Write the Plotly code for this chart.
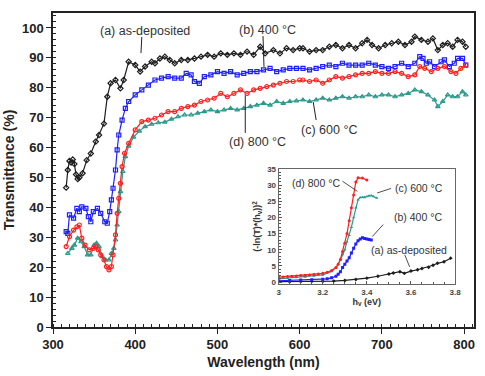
import plotly.graph_objects as go

# ---- main chart data (wavelength nm, transmittance %) ----
wl_a = [316,318,320,322,324,326,328,330,332,336,341,346,352,356,362,366,370,376,382,386,
        392,400,406,412,420,424,430,436,442,448,456,464,472,480,488,496,504,512,520,528,536,544,552,558,568,576,584,592,600,
        604,612,620,628,636,644,652,660,668,676,682,688,696,704,712,720,728,736,740,748,756,762,768,774,780,786,792,798,802]
t_a = [46.6,52.5,55.5,55.0,56.0,54.5,51.0,49.5,50.0,51.4,55.8,58.0,62.0,64.2,68.0,77.0,81.5,82.6,79.8,82.6,
       88.7,87.6,85.4,87.1,88.7,88.2,89.8,90.4,89.3,88.2,89.3,89.3,89.8,90.4,91.0,90.4,91.5,91.0,91.5,91.0,92.1,91.0,93.7,91.5,92.6,91.5,93.2,92.6,93.2,
       93.2,92.1,92.6,92.6,93.7,94.3,93.2,94.3,93.2,94.9,96.0,94.3,93.2,94.3,94.9,95.4,94.3,95.4,97.1,96.0,95.4,96.5,92.6,94.3,94.9,93.7,96.0,95.4,93.7]

wl_b = [316,318,320,325,329,332,335,340,343,346,349,354,358,363,366,369,371,373,376,378,380,384,388,
        392,400,408,416,424,432,440,448,456,462,468,472,478,484,492,500,508,516,524,532,540,548,556,564,572,580,588,596,
        604,612,620,628,636,644,652,660,668,676,684,692,700,708,716,724,732,740,746,750,754,758,764,772,776,782,788,792,798,802]
t_b = [31.9,31.3,37.5,36.4,39.7,38.6,40.2,39.7,36.9,35.2,38.6,39.7,38.0,35.2,34.7,38.6,42.5,46.4,52.5,59.2,64.2,69.2,73.1,
       75.4,77.6,79.3,80.9,82.6,83.2,83.7,83.2,83.2,84.8,84.3,82.1,81.5,83.7,84.3,85.4,84.8,85.4,84.3,84.8,85.4,85.4,86.0,86.5,85.4,86.0,86.5,86.5,
       86.5,86.0,86.5,87.1,87.6,87.1,88.2,87.6,87.6,87.6,88.2,87.6,87.1,86.5,87.1,88.2,87.1,88.2,90.4,89.8,88.2,88.7,87.1,88.7,89.3,87.1,88.2,89.8,89.8,87.6]

wl_c = [318,323,326,330,334,338,342,346,350,353,356,360,364,368,371,374,376,378,380,382,385,388,
        392,398,405,412,420,428,436,444,452,460,468,476,484,492,500,508,516,524,532,540,548,556,564,572,580,588,596,
        604,612,620,628,636,644,652,660,668,676,684,692,700,708,716,724,732,740,748,756,764,768,774,780,786,792,798,802]
t_c = [24.6,26.3,27.4,29.7,28.5,26.9,24.1,24.1,27.4,28.0,26.9,23.5,22.4,22.4,24.6,26.3,29.1,34.1,38.6,45.3,52.0,57.0,
       60.5,63.5,65.5,67.0,67.8,68.3,68.5,69.5,70.3,70.9,70.9,71.5,72.0,72.6,72.0,72.6,73.1,72.6,73.1,73.7,74.2,74.8,74.2,75.4,74.8,75.4,75.6,
       75.9,75.4,75.9,76.5,75.9,76.5,77.0,76.5,77.0,77.0,77.6,77.0,77.6,77.6,77.0,77.6,78.1,79.3,78.7,77.6,75.9,73.7,75.4,77.6,77.0,77.0,78.7,77.6]

wl_d = [316,320,325,329,332,335,339,344,349,352,355,358,362,365,368,371,373,376,378,380,382,384,387,
        392,400,408,416,424,432,440,448,456,464,472,480,488,496,504,512,520,528,536,544,552,560,568,576,584,592,600,
        604,612,620,628,636,644,652,660,668,676,684,692,700,708,716,724,732,740,746,752,760,768,776,784,790,796,802]
t_d = [26.9,30.2,32.4,33.5,34.1,29.7,27.4,25.8,26.3,26.9,25.8,24.1,22.4,20.2,19.1,20.2,24.1,30.8,38.0,43.0,48.0,53.6,58.1,
       61.4,65.9,68.7,69.2,69.8,70.9,72.0,72.0,73.1,73.7,74.2,75.4,75.9,76.5,78.1,77.0,78.1,79.3,78.1,79.3,79.8,80.4,80.9,81.5,82.1,82.1,82.6,
       82.6,82.1,82.6,81.5,82.6,83.7,83.2,83.7,84.3,84.8,84.8,85.4,84.8,84.8,85.4,84.8,83.7,84.3,87.1,86.5,85.4,86.5,87.1,85.4,84.8,86.5,87.6]

# ---- inset data (photon energy eV, (-ln(T)*hv)^2) ----
e_a = [3.00,3.05,3.10,3.15,3.20,3.25,3.30,3.35,3.40,3.45,3.50,3.52,3.55,3.57,3.60,3.63,3.65,3.68,3.70,3.72,3.75,3.78]
v_a = [0.1,0.1,0.15,0.2,0.2,0.3,0.5,0.8,1.2,1.8,2.5,2.8,3.2,2.7,3.4,3.8,4.2,4.6,5.2,5.8,6.3,7.4]
e_b = [3.00,3.05,3.10,3.15,3.20,3.22,3.24,3.26,3.27,3.28,3.29,3.30,3.31,3.32,3.33,3.34,3.35,3.36,3.37,3.38,3.39,3.40,3.41,3.42]
v_b = [0.4,0.5,0.6,0.7,0.9,1.0,1.3,1.8,2.4,3.2,4.5,5.5,6.5,7.5,9.0,10.5,11.8,12.8,13.3,13.7,13.5,13.3,13.2,13.0]
e_c = [3.00,3.04,3.08,3.12,3.16,3.20,3.24,3.26,3.28,3.29,3.30,3.31,3.32,3.33,3.34,3.35,3.36,3.37,3.38,3.39,3.40,3.41,3.42,3.43,3.445]
v_c = [1.0,1.2,1.4,1.6,1.9,2.2,3.3,4.5,6.8,8.5,10.0,12.5,14.5,17.0,20.0,23.0,25.5,26.2,26.3,26.2,26.5,26.7,26.8,26.5,26.0]
e_d = [3.00,3.02,3.04,3.06,3.08,3.10,3.12,3.14,3.16,3.18,3.20,3.22,3.24,3.26,3.27,3.28,3.29,3.30,3.31,3.32,3.33,3.34,3.35,3.36,3.38,3.40]
v_d = [1.5,1.6,1.7,1.8,1.9,2.0,2.1,2.2,2.3,2.5,2.7,3.0,3.6,4.5,5.5,7.0,9.5,12.0,15.0,19.0,23.0,27.0,31.0,32.3,32.2,31.6]

BLACK = "#1e1e1e"
BLUE = "#1f1fff"
RED = "#ff1f1f"
TEAL = "#2a9a8c"
FONT = "Liberation Sans, Arial, sans-serif"

fig = go.Figure()

main = [(wl_a, t_a, BLACK, "diamond-open"),
        (wl_b, t_b, BLUE, "square-open"),
        (wl_c, t_c, TEAL, "triangle-up-open"),
        (wl_d, t_d, RED, "circle-open")]
for x, y, c, sym in main:
    fig.add_trace(go.Scatter(x=x, y=y, mode="lines+markers", xaxis="x", yaxis="y",
                             line=dict(color=c, width=1.2),
                             marker=dict(symbol=sym, size=4, color=c, line=dict(width=1.2, color=c)),
                             showlegend=False))

inset = [(e_a, v_a, BLACK, "diamond"), (e_b, v_b, BLUE, "square"),
         (e_c, v_c, TEAL, "triangle-up"), (e_d, v_d, RED, "circle")]
for x, y, c, sym in inset:
    fig.add_trace(go.Scatter(x=x, y=y, mode="lines+markers", xaxis="x2", yaxis="y2",
                             line=dict(color=c, width=1.2),
                             marker=dict(symbol=sym, size=3, color=c),
                             showlegend=False))

tickfont = dict(family=FONT, size=13, color="#222", weight="bold")
fig.update_layout(
    width=485, height=376,
    margin=dict(l=53, r=5, t=13, b=49),
    paper_bgcolor="white", plot_bgcolor="white",
    xaxis=dict(domain=[0, 1], range=[300, 812], dtick=100, tick0=300,
               showline=True, linecolor="#222", linewidth=1.5, mirror=True,
               ticks="outside", ticklen=5, tickwidth=1.2, tickcolor="#222",
               minor=dict(ticks="inside", ticklen=3, dtick=10, tickcolor="#222"),
               showgrid=False, zeroline=False, tickfont=tickfont,
               title=dict(text="Wavelength (nm)", standoff=6,
                          font=dict(family=FONT, size=14, color="#222", weight="bold"))),
    yaxis=dict(domain=[0, 1], range=[0, 105], dtick=10,
               showline=True, linecolor="#222", linewidth=1.5, mirror=True,
               ticks="outside", ticklen=5, tickwidth=1.2, tickcolor="#222",
               minor=dict(ticks="inside", ticklen=3, dtick=2, tickcolor="#222"),
               showgrid=False, zeroline=False, tickfont=tickfont,
               title=dict(text="Transmittance (%)", standoff=4,
                          font=dict(family=FONT, size=14, color="#222", weight="bold"))),
    xaxis2=dict(domain=[0.536, 0.955], range=[3, 3.8], dtick=0.2, anchor="y2",
                showline=True, linecolor="#666", linewidth=1, mirror=True,
                ticks="inside", ticklen=3, tickcolor="#555",
                minor=dict(ticks="inside", ticklen=2, dtick=0.05, tickcolor="#555"),
                showgrid=False, zeroline=False,
                tickfont=dict(family=FONT, size=8, color="#444", weight="bold"),
                title=dict(text="h<sub>v</sub> (eV)", standoff=2,
                           font=dict(family=FONT, size=9, color="#333", weight="bold"))),
    yaxis2=dict(domain=[0.137, 0.503], range=[-0.6, 35], dtick=5, anchor="x2",
                showline=True, linecolor="#666", linewidth=1, mirror=True,
                ticks="inside", ticklen=3, tickcolor="#555",
                minor=dict(ticks="inside", ticklen=2, dtick=1, tickcolor="#555"),
                showgrid=False, zeroline=False,
                tickfont=dict(family=FONT, size=8, color="#444", weight="bold"),
                title=dict(text="(-ln(T)*(h<sub>v</sub>))<sup>2</sup>", standoff=4,
                           font=dict(family=FONT, size=9, color="#333", weight="bold"))),
)

afont = dict(family=FONT, size=12.5, color="#333")
main_labels = [("(a) as-deposited", 411.5, 99.0, 408, 97.0, 407, 91.6),
               ("(b) 400 °C", 561, 99.3, 555.4, 97.3, 556.6, 87.0),
               ("(d) 800 °C", 549, 61.9, 533.8, 77.5, 533.8, 64.9),
               ("(c) 600 °C", 635.7, 65.9, 616.5, 75.2, 620, 69.2)]
for txt, tx, ty, x0, y0, x1, y1 in main_labels:
    fig.add_annotation(x=tx, y=ty, xref="x", yref="y", text=txt, showarrow=False, font=afont)
    fig.add_shape(type="line", xref="x", yref="y", x0=x0, y0=y0, x1=x1, y1=y1,
                  line=dict(color="#222", width=1))

ifont = dict(family=FONT, size=10.5, color="#333")
inset_labels = [("(d) 800 °C", 3.17, 30.6, 3.29, 31.2, 3.357, 28.1),
                ("(c) 600 °C", 3.635, 29.0, 3.51, 29.0, 3.447, 27.6),
                ("(b) 400 °C", 3.63, 20.0, 3.474, 17.8, 3.425, 14.1),
                ("(a) as-deposited", 3.59, 10.0, 3.572, 8.4, 3.594, 4.7)]
for txt, tx, ty, x0, y0, x1, y1 in inset_labels:
    fig.add_annotation(x=tx, y=ty, xref="x2", yref="y2", text=txt, showarrow=False, font=ifont)
    fig.add_shape(type="line", xref="x2", yref="y2", x0=x0, y0=y0, x1=x1, y1=y1,
                  line=dict(color="#222", width=0.8))

fig.write_html("out.html")
